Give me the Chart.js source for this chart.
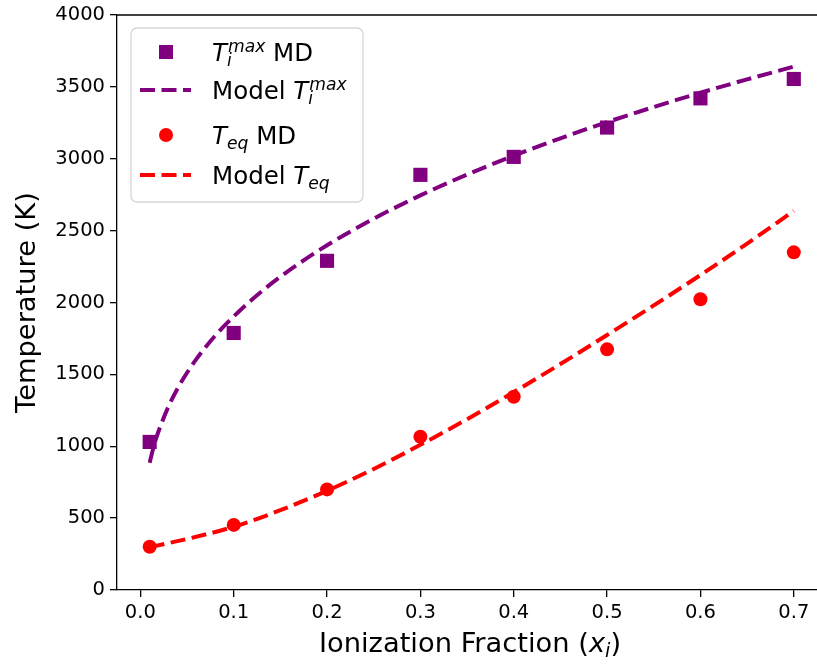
<!DOCTYPE html>
<html>
<head>
<meta charset="utf-8">
<script src="https://cdn.jsdelivr.net/npm/chart.js@4/dist/chart.umd.min.js"></script>
<style>
  html, body { margin: 0; padding: 0; background: #fff; overflow: hidden; }
  #wrap { width: 817px; height: 664px; overflow: hidden; }
</style>
</head>
<body>
<div id="wrap"><canvas id="c" width="900" height="664"></canvas></div>
<script>
// MD points
const xMD = [0.01, 0.1, 0.2, 0.3, 0.4, 0.5, 0.6, 0.7];
const tiMaxMD = [1030, 1788, 2290, 2888, 3013, 3217, 3420, 3555];
const teqMD = [301, 453, 700, 1066, 1344, 1674, 2023, 2349];

// model curves
const xTiModel = [0.01, 0.015, 0.02, 0.03, 0.04, 0.05, 0.06, 0.08, 0.1, 0.12, 0.15, 0.2, 0.25, 0.3, 0.35, 0.4, 0.45, 0.5, 0.55, 0.6, 0.65, 0.7];
const tiMaxModel = [886, 1015, 1113, 1274, 1403, 1511, 1606, 1768, 1903, 2023, 2179, 2398, 2583, 2745, 2890, 3021, 3142, 3255, 3360, 3459, 3552, 3641];
const xTeqModel = [0.01, 0.05, 0.1, 0.15, 0.2, 0.25, 0.3, 0.35, 0.4, 0.45, 0.5, 0.55, 0.6, 0.65, 0.7];
const teqModel = [298, 355, 440, 555, 690, 842, 1010, 1188, 1377, 1572, 1774, 1980, 2191, 2410, 2637];

const xTicks = [0.0, 0.1, 0.2, 0.3, 0.4, 0.5, 0.6, 0.7];
const yTicks = [0, 500, 1000, 1500, 2000, 2500, 3000, 3500, 4000];

const PURPLE = '#800080';
const RED = '#ff0000';
const FONT = "'DejaVu Sans', sans-serif";

const pts = (xs, ys) => xs.map((x, i) => ({ x, y: ys[i] }));

// draws text with italic / sub / superscript parts, returns end x
function drawMath(ctx, parts, x, y, size) {
    for (const p of parts) {
        if (p.sub !== undefined || p.sup !== undefined) {
            const s = size * 0.7;
            ctx.font = `italic ${s}px ${FONT}`;
            let w = 0;
            if (p.sup) { ctx.fillText(p.sup, x + 1, y - size * 0.36); w = Math.max(w, ctx.measureText(p.sup).width + 1); }
            if (p.sub) { ctx.fillText(p.sub, x, y + size * 0.2); w = Math.max(w, ctx.measureText(p.sub).width); }
            x += w;
        } else {
            ctx.font = `${p.it ? 'italic ' : ''}${size}px ${FONT}`;
            ctx.fillText(p.t, x, y);
            x += ctx.measureText(p.t).width;
        }
    }
    return x;
}
function mathWidth(ctx, parts, size) {
    let w = 0;
    for (const p of parts) {
        if (p.sub !== undefined || p.sup !== undefined) {
            ctx.font = `italic ${size * 0.7}px ${FONT}`;
            w += Math.max(p.sup ? ctx.measureText(p.sup).width + 1 : 0, p.sub ? ctx.measureText(p.sub).width : 0);
        } else {
            ctx.font = `${p.it ? 'italic ' : ''}${size}px ${FONT}`;
            w += ctx.measureText(p.t).width;
        }
    }
    return w;
}

const legendRows = [
    { kind: 'rect', color: PURPLE, y: 52, parts: [{ t: 'T', it: 1 }, { sub: 'i', sup: 'max' }, { t: ' MD' }] },
    { kind: 'dash', color: PURPLE, y: 90, parts: [{ t: 'Model ' }, { t: 'T', it: 1 }, { sub: 'i', sup: 'max' }] },
    { kind: 'circle', color: RED, y: 135, parts: [{ t: 'T', it: 1 }, { sub: 'eq' }, { t: ' MD' }] },
    { kind: 'dash', color: RED, y: 175, parts: [{ t: 'Model ' }, { t: 'T', it: 1 }, { sub: 'eq' }] }
];

const decor = {
    id: 'decor',
    afterDraw(chart) {
        const ctx = chart.ctx, a = chart.chartArea;
        ctx.save();
        // top spine
        ctx.strokeStyle = '#000'; ctx.lineWidth = 1.3;
        ctx.beginPath();
        ctx.moveTo(a.left, a.top); ctx.lineTo(a.right, a.top);
        ctx.stroke();

        // legend box
        const bx = 131, by = 28, bw = 232, bh = 174, r = 6;
        ctx.beginPath();
        ctx.roundRect(bx, by, bw, bh, r);
        ctx.fillStyle = 'rgba(255,255,255,0.85)';
        ctx.fill();
        ctx.strokeStyle = '#d6d6d6'; ctx.lineWidth = 1.3;
        ctx.stroke();

        ctx.textBaseline = 'alphabetic';
        ctx.textAlign = 'left';
        const fs = 24.5;
        for (const row of legendRows) {
            ctx.fillStyle = row.color; ctx.strokeStyle = row.color;
            if (row.kind === 'rect') {
                ctx.fillRect(166 - 7, row.y - 7, 14, 14);
            } else if (row.kind === 'circle') {
                ctx.beginPath(); ctx.arc(166, row.y, 7, 0, Math.PI * 2); ctx.fill();
            } else {
                ctx.lineWidth = 4; ctx.setLineDash([15, 6.5]); ctx.lineCap = 'butt';
                ctx.beginPath(); ctx.moveTo(140, row.y); ctx.lineTo(191, row.y); ctx.stroke();
                ctx.setLineDash([]);
            }
            ctx.fillStyle = '#000';
            drawMath(ctx, row.parts, 212, row.y + fs * 0.36, fs);
        }

        // axis titles
        const ts = 27.3;
        const xParts = [{ t: 'Ionization Fraction (' }, { t: 'x', it: 1 }, { sub: 'i' }, { t: ')' }];
        const xw = mathWidth(ctx, xParts, ts);
        drawMath(ctx, xParts, 470 - xw / 2, 652, ts);

        ctx.translate(35, (a.top + a.bottom) / 2);
        ctx.rotate(-Math.PI / 2);
        ctx.font = `${ts}px ${FONT}`;
        ctx.textAlign = 'center';
        ctx.fillText('Temperature (K)', 0, 0);
        ctx.restore();
    }
};

const axisCommon = {
    grid: { display: true, drawOnChartArea: false, drawTicks: true, tickLength: 7, color: '#000', lineWidth: 1.3 },
    border: { display: true, color: '#000', width: 1.3 },
    title: { display: false }
};

new Chart(document.getElementById('c'), {
    type: 'scatter',
    data: {
        datasets: [
            {
                label: 'Ti max MD', data: pts(xMD, tiMaxMD), pointStyle: 'rect', pointRadius: 10,
                backgroundColor: PURPLE, borderColor: PURPLE, borderWidth: 0, order: 2
            },
            {
                type: 'line', label: 'Model Ti max', data: pts(xTiModel, tiMaxModel), borderColor: PURPLE,
                borderWidth: 4, borderDash: [15, 6.5], pointRadius: 0, fill: false,
                cubicInterpolationMode: 'monotone', order: 1
            },
            {
                label: 'Teq MD', data: pts(xMD, teqMD), pointStyle: 'circle', pointRadius: 7,
                backgroundColor: RED, borderColor: RED, borderWidth: 0, order: 2
            },
            {
                type: 'line', label: 'Model Teq', data: pts(xTeqModel, teqModel), borderColor: RED,
                borderWidth: 4, borderDash: [15, 6.5], pointRadius: 0, fill: false,
                cubicInterpolationMode: 'monotone', order: 1
            }
        ]
    },
    options: {
        responsive: false,
        animation: false,
        layout: { autoPadding: false, padding: { top: 15, right: 74, left: 0, bottom: 0 } },
        plugins: { legend: { display: false }, tooltip: { enabled: false } },
        scales: {
            x: {
                ...axisCommon,
                type: 'linear', min: -0.025, max: 0.7345,
                afterBuildTicks: (s) => { s.ticks = xTicks.map(v => ({ value: v })); },
                afterFit: (s) => { s.height = 74; s.paddingLeft = 0; s.paddingRight = 0; },
                ticks: { color: '#000', font: { family: FONT, size: 19.5 }, padding: 4, maxRotation: 0, callback: v => v.toFixed(1) }
            },
            y: {
                ...axisCommon,
                type: 'linear', min: 0, max: 4000,
                afterBuildTicks: (s) => { s.ticks = yTicks.map(v => ({ value: v })); },
                afterFit: (s) => { s.width = 117; s.paddingTop = 0; s.paddingBottom = 0; },
                ticks: { color: '#000', font: { family: FONT, size: 19.5 }, padding: 5, callback: v => String(v) }
            }
        }
    },
    plugins: [decor]
});
</script>
</body>
</html>
